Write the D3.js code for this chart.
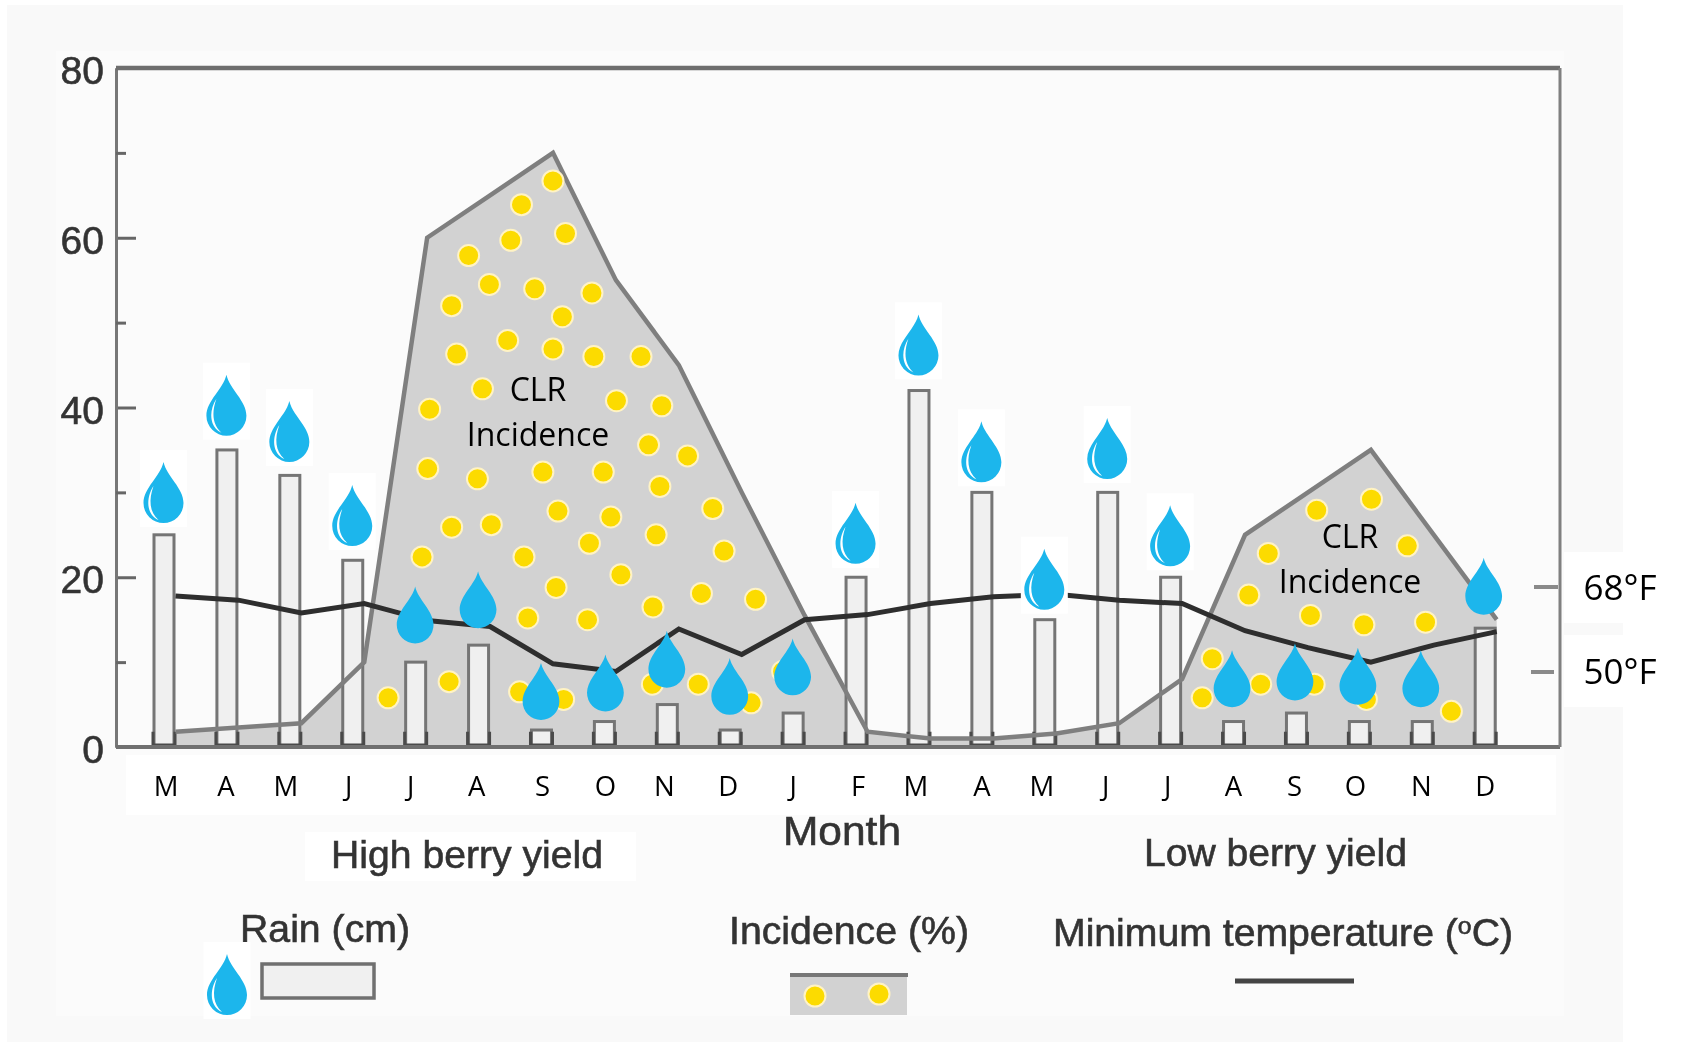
<!DOCTYPE html>
<html lang="en">
<head>
<meta charset="UTF-8">
<title>CLR incidence, rain and minimum temperature</title>
<script src="https://d3js.org/d3.v7.min.js"></script>
<style>
html,body{margin:0;padding:0;background:#fff}
svg{display:block}
.scan{filter:blur(.7px)}
.scan text{font-family:"Liberation Sans",Arial,sans-serif;fill:#333;stroke:#333;stroke-width:.6}
.note{font-family:"Open Sans",sans-serif;fill:#000}
.yaxis .domain{stroke:#777;stroke-width:3}
.yaxis line{stroke:#666;stroke-width:3}
.yaxis text{font-size:39px}
.month-axis .domain,.month-axis line{display:none}
.month-axis text{font-family:"Open Sans",sans-serif;font-size:27.5px;fill:#000}
</style>
</head>
<body>
<svg id="chart" width="1687" height="1042"></svg>
<script>
// Values
var months = ['M','A','M','J','J','A','S','O','N','D','J','F','M','A','M','J','J','A','S','O','N','D'];
var rain = [25,35,32,22,10,12,2,3,5,2,4,20,42,30,15,30,20,3,4,3,3,14];
var incidence = [1.8,2.3,2.8,10,60,65,70,55,45,30,15.5,1.8,1,1,1.6,2.8,8,25,30,35,25,15];
var minTemp = [17.8,17.3,15.8,16.9,14.9,14.2,9.8,8.9,13.9,10.9,15,15.6,16.9,17.7,18,17.3,16.9,13.7,11.7,10,12,13.6];
// bottom of each rain drop, on the y scale
var dropLevel = [26.5,36.8,33.7,23.8,12.3,14.1,3.3,4.3,7.1,3.9,6.2,21.7,43.9,31.3,16.3,31.7,21.4,4.8,5.6,5.1,4.8,15.7];
var dropBoxed = [1,1,1,1,0,0,0,0,0,0,0,1,1,1,1,1,1,0,0,0,0,0];
// yellow spore dots: fractional month index, incidence value
var dotMonth = [6.19,5.69,6.39,5.52,4.85,5.18,5.9,6.81,4.58,6.34,5.47,6.19,4.66,6.84,7.59,5.07,4.23,7.2,7.92,7.71,8.33,4.2,4.99,6.03,6.99,7.89,6.27,7.11,8.73,4.58,5.21,7.83,6.77,4.11,5.73,8.91,7.27,6.24,8.55,9.41,7.78,5.79,6.74,3.57,4.54,5.66,6.36,7.77,8.5,9.34,9.84,
  18.33,19.2,19.77,17.56,17.25,18.23,19.08,20.06,16.67,16.51,17.44,18.29,19.12,20.47];
var dotValue = [66.7,63.9,60.5,59.7,57.9,54.5,54,53.5,52,50.7,47.9,46.9,46.3,46,46,42.2,39.8,40.8,40.2,35.6,34.3,32.8,31.6,32.4,32.4,30.7,27.8,27.1,28.1,25.9,26.2,25,24,22.4,22.4,23.1,20.3,18.8,18.1,17.4,16.5,15.2,15,5.8,7.7,6.5,5.6,7.4,7.4,5.2,8.9,
  27.9,29.2,23.7,22.8,17.9,15.5,14.4,14.7,10.4,5.8,7.4,7.4,5.6,4.2];
var majorTicks = [0,20,40,60,80];
var minorTicks = [10,30,50,70];

// Layout
var plot = { left: 116, right: 1560, top: 68, bottom: 747 };
var lineShift = 12;   // incidence and temp points sit at the right edge of the bars
var barWidth = 20;
var labelNudge = [2,-1,-4,-4,-5,-2,1,1,-3,-2,0,2,-3,0,-3,-2,-3,0,-2,-4,-1,0];

var svg = d3.select('#chart');
var x = d3.scalePoint().domain(d3.range(months.length)).range([163.5, 1484.7]);
var xPos = d3.scaleLinear().domain([0, months.length - 1]).range([163.5, 1484.7]);
var y = d3.scaleLinear().domain([0, 80]).range([plot.bottom, plot.top]);

function box(parent, bx, by, w, h, fill) {
  return parent.append('rect').attr('x', bx).attr('y', by).attr('width', w).attr('height', h).attr('fill', fill);
}

// Backgrounds and the pasted white patches
box(svg, 7, 5, 1616, 1037, '#f9f9f9');
box(svg, 56, 51, 1508, 965, '#fbfbfb');
box(svg, 126, 755, 1430, 60, '#fff');
box(svg, 305, 832, 331, 49, '#fff');
box(svg, 1564, 552, 59, 71, '#fff');
box(svg, 1564, 635, 59, 72, '#fff');

var scan = svg.append('g').attr('class', 'scan');

// Incidence area
var area = d3.area()
  .x(function(d, i) { return x(i) + lineShift; })
  .y0(y(0))
  .y1(function(d) { return y(d); });
var topLine = d3.line()
  .x(function(d, i) { return x(i) + lineShift; })
  .y(function(d) { return y(d); });
scan.append('path').datum(incidence).attr('d', area).attr('fill', '#d2d2d2');

// Rain bars
scan.selectAll('rect.bar').data(rain).join('rect')
  .attr('class', 'bar')
  .attr('x', function(d, i) { return x(i) + .5 - barWidth / 2; })
  .attr('y', function(d) { return y(d); })
  .attr('width', barWidth)
  .attr('height', function(d) { return y(0) - y(d); })
  .attr('fill', '#f0f0f0')
  .attr('stroke', '#757575')
  .attr('stroke-width', 3);

// dark foot on each bar
scan.selectAll('path.foot').data(rain).join('path')
  .attr('class', 'foot')
  .attr('d', function(d, i) {
    var l = x(i) + .5 - barWidth / 2 - 1, r = x(i) + .5 + barWidth / 2 + 1, t = y(1.8);
    return 'M' + l + ',' + t + 'V' + (y(0) - 2) + 'H' + r + 'V' + t;
  })
  .attr('fill', 'none')
  .attr('stroke', '#4a4a4a')
  .attr('stroke-width', 3);

scan.append('path').datum(incidence).attr('d', topLine)
  .attr('fill', 'none').attr('stroke', '#7f7f7f').attr('stroke-width', 4.5);

// Minimum temperature
var tempLine = d3.line()
  .x(function(d, i) { return x(i) + lineShift; })
  .y(function(d) { return y(d); });
scan.append('path').datum(minTemp).attr('d', tempLine)
  .attr('fill', 'none').attr('stroke', '#2e2e2e').attr('stroke-width', 5);

// Axes
scan.append('g').attr('class', 'yaxis').attr('transform', 'translate(' + plot.left + ',0)')
  .call(d3.axisLeft(y).tickValues(majorTicks).tickSizeInner(-20).tickSizeOuter(0).tickPadding(12))
  .selectAll('text').attr('dy', '0.4em');
scan.append('g').attr('class', 'yaxis').attr('transform', 'translate(' + plot.left + ',0)')
  .call(d3.axisLeft(y).tickValues(minorTicks).tickFormat('').tickSizeInner(-10).tickSizeOuter(0));
scan.append('line').attr('x1', plot.left).attr('x2', plot.right).attr('y1', plot.top).attr('y2', plot.top)
  .attr('stroke', '#6e6e6e').attr('stroke-width', 4.5);
scan.append('line').attr('x1', plot.left).attr('x2', plot.right).attr('y1', plot.bottom).attr('y2', plot.bottom)
  .attr('stroke', '#707070').attr('stroke-width', 4);
scan.append('line').attr('x1', plot.right).attr('x2', plot.right).attr('y1', plot.top).attr('y2', plot.bottom)
  .attr('stroke', '#808080').attr('stroke-width', 3);

// Original figure's text
function label(parent, txt, lx, ly, size, width) {
  return parent.append('text').attr('x', lx).attr('y', ly).attr('font-size', size + 'px')
    .attr('textLength', width).attr('lengthAdjust', 'spacingAndGlyphs').text(txt);
}
label(scan, 'Month', 783, 845, 41, 118);
label(scan, 'High berry yield', 331, 868, 39, 272);
label(scan, 'Low berry yield', 1144, 866, 38, 263);
label(scan, 'Rain (cm)', 240, 942, 38, 170);
label(scan, 'Incidence (%)', 729, 944, 38, 240);
var mt = label(scan, '', 1053, 946, 38, 460);
mt.append('tspan').text('Minimum temperature (');
mt.append('tspan').attr('font-size', '24px').attr('dy', -12).text('o');
mt.append('tspan').attr('dy', 12).text('C)');

// Legend swatches
box(scan, 262, 964, 112, 34, '#f0f0f0').attr('stroke', '#707070').attr('stroke-width', 3.5);
box(scan, 790, 974, 117, 41, '#d2d2d2');
scan.append('line').attr('x1', 790).attr('x2', 908).attr('y1', 975).attr('y2', 975)
  .attr('stroke', '#777').attr('stroke-width', 4);
scan.append('line').attr('x1', 1235).attr('x2', 1354).attr('y1', 981).attr('y2', 981)
  .attr('stroke', '#444').attr('stroke-width', 5);

// Pasted-on layer: dots, drops, month letters, notes
function dot(parent, cx, cy) {
  parent.append('circle').attr('cx', cx).attr('cy', cy).attr('r', 10.5)
    .attr('fill', '#fcdb00').attr('stroke', '#fff3c4').attr('stroke-width', 2);
}
var dots = svg.append('g');
dotMonth.forEach(function(m, i) { dot(dots, xPos(m), y(dotValue[i])); });
dot(svg, 815, 996);
dot(svg, 879, 994);

function drop(parent, cx, bottom, boxed) {
  var h = boxed ? 60 : 56;
  var w = boxed ? 1 : 0.92;
  if (boxed) box(parent, cx - 23.5, bottom - h - 12, 47, h + 17, '#fff');
  var g = parent.append('g')
    .attr('transform', 'translate(' + cx + ',' + (bottom - h) + ') scale(' + w + ',' + (h / 60) + ')');
  g.append('path')
    .attr('d', 'M0,0C3,14 20,26 20,41A19.5,19.5 0 0 1 -20,41C-20,26 -3,14 0,0Z')
    .attr('fill', '#1cb6ec');
  if (boxed) {
    g.append('path')
      .attr('d', 'M-10,24C-18,36 -17,53 -5,58C-14,50 -15,38 -10,24Z')
      .attr('fill', '#fff');
  }
}
var drops = svg.append('g');
dropLevel.forEach(function(v, i) { drop(drops, x(i) + (i > 16 ? -1 : (i === 7 ? 1.5 : 0)), y(v), dropBoxed[i] === 1); });
drop(svg, 227, 1014, true);

svg.append('g').attr('class', 'month-axis').attr('transform', 'translate(0,' + plot.bottom + ')')
  .call(d3.axisBottom(x).tickFormat(function(i) { return months[i]; }).tickSize(0).tickPadding(29))
  .selectAll('text').attr('dx', function(d, i) { return labelNudge[i]; });

function note(txt, nx, ny, size) {
  svg.append('text').attr('class', 'note').attr('x', nx).attr('y', ny)
    .attr('font-size', size + 'px').attr('text-anchor', 'middle').text(txt);
}
note('CLR', 538, 401, 32);
note('Incidence', 538, 446, 32);
note('CLR', 1350, 548, 32);
note('Incidence', 1350, 593, 32);
note('68°F', 1620, 600, 35);
note('50°F', 1620, 684, 35);

// Fahrenheit marks outside the frame
svg.append('line').attr('x1', 1534).attr('x2', 1558).attr('y1', 587).attr('y2', 587).attr('stroke', '#8a8a8a').attr('stroke-width', 4);
svg.append('line').attr('x1', 1531).attr('x2', 1554).attr('y1', 672).attr('y2', 672).attr('stroke', '#8a8a8a').attr('stroke-width', 4);
</script>
</body>
</html>
